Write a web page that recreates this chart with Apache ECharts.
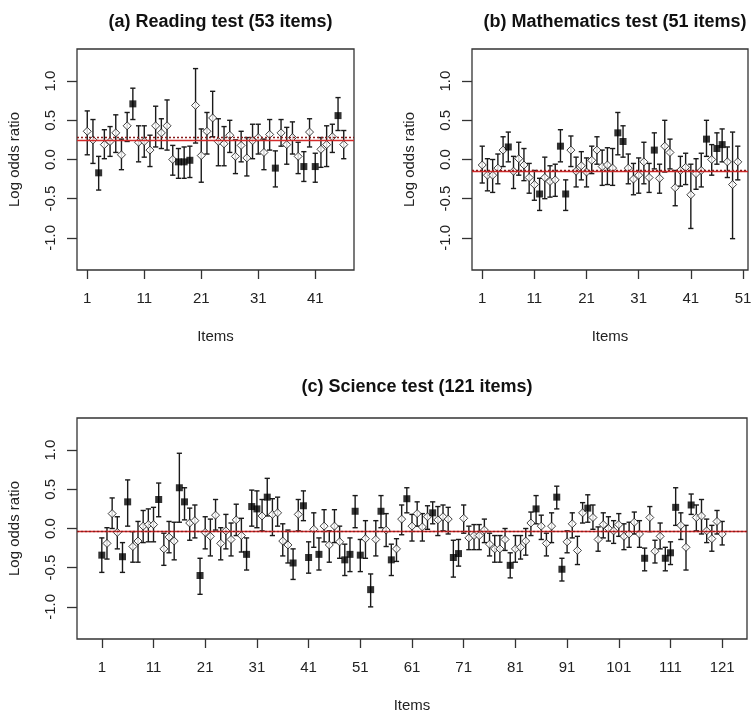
<!DOCTYPE html>
<html><head><meta charset="utf-8">
<script src="https://cdn.jsdelivr.net/npm/echarts@6/dist/echarts.min.js"></script>
<style>html,body{margin:0;padding:0;background:#fff}#c{width:753px;height:717px}</style>
</head><body><div id="c"></div>
<script>
// ---------- data ----------
const readEst  = [0.36,0.25,-0.17,0.19,0.23,0.34,0.06,0.43,0.71,0.22,0.23,0.12,0.43,0.34,0.43,0.00,-0.03,-0.03,-0.01,0.69,0.05,0.36,0.53,0.23,0.20,0.31,0.04,0.18,0.02,0.24,0.28,0.09,0.32,-0.11,0.34,0.19,0.28,0.04,-0.09,0.35,-0.09,0.13,0.19,0.29,0.56,0.19];
const readLow  = [0.06,-0.05,-0.39,0.01,0.04,0.09,-0.13,0.23,0.51,-0.03,0.03,-0.09,0.16,0.14,0.12,-0.20,-0.24,-0.24,-0.23,0.21,-0.29,0.07,0.29,-0.08,-0.08,0.09,-0.18,-0.03,-0.21,0.01,0.07,-0.13,0.12,-0.35,0.17,-0.06,0.07,-0.18,-0.28,0.16,-0.29,-0.10,-0.09,0.09,0.37,0.01];
const readHigh = [0.62,0.51,0.04,0.38,0.42,0.57,0.26,0.60,0.91,0.43,0.43,0.31,0.68,0.52,0.76,0.18,0.14,0.16,0.17,1.16,0.39,0.60,0.87,0.52,0.42,0.50,0.25,0.36,0.28,0.45,0.45,0.26,0.51,0.11,0.51,0.41,0.48,0.22,0.10,0.52,0.08,0.28,0.43,0.45,0.79,0.37];
const readFilled = [3,9,17,18,19,34,39,41,45];
const readRef = [0.25, 0.275];

const mathEst  = [-0.07,-0.20,-0.20,-0.11,0.12,0.16,-0.15,0.01,-0.07,-0.23,-0.32,-0.44,-0.23,-0.28,-0.26,0.17,-0.44,0.12,-0.15,-0.08,-0.16,-0.01,0.12,-0.09,-0.07,-0.11,0.34,0.23,-0.11,-0.25,-0.20,-0.03,-0.23,0.12,-0.24,0.17,0.09,-0.36,-0.14,-0.10,-0.45,-0.18,-0.14,0.26,0.00,0.14,0.19,-0.03,-0.32,-0.03];
const mathLow  = [-0.30,-0.40,-0.42,-0.31,-0.09,-0.03,-0.37,-0.20,-0.27,-0.43,-0.52,-0.65,-0.50,-0.48,-0.47,-0.03,-0.65,-0.09,-0.35,-0.26,-0.35,-0.18,-0.06,-0.33,-0.32,-0.33,0.06,0.03,-0.31,-0.45,-0.43,-0.31,-0.42,-0.12,-0.43,-0.16,-0.12,-0.59,-0.34,-0.32,-0.88,-0.38,-0.35,0.04,-0.20,-0.06,-0.03,-0.23,-1.01,-0.26];
const mathHigh = [0.17,0.01,0.00,0.07,0.29,0.35,0.04,0.22,0.14,-0.05,-0.14,-0.24,0.03,-0.08,-0.06,0.38,-0.26,0.30,0.03,0.10,0.02,0.17,0.29,0.12,0.15,0.14,0.60,0.43,0.07,-0.05,0.02,0.22,-0.05,0.34,-0.06,0.50,0.26,-0.14,0.04,0.08,-0.06,0.01,0.08,0.50,0.19,0.34,0.39,0.16,0.35,0.17];
const mathFilled = [6,12,16,17,27,28,34,44,46,47];
const mathRef = [-0.15, -0.145];

const sciEst = [
 -0.34,-0.19,0.19,-0.05,-0.36,0.34,-0.23,-0.16,0.03,0.05,
 0.05,0.37,-0.26,-0.11,-0.16,0.52,0.34,0.07,0.10,-0.60,
 -0.05,-0.10,0.17,-0.19,-0.03,-0.14,0.11,-0.09,-0.33,0.28,
 0.25,0.16,0.40,0.18,0.20,-0.16,-0.21,-0.44,0.18,0.29,
 -0.37,-0.01,-0.33,0.03,-0.21,0.03,-0.17,-0.40,-0.33,0.22,
 -0.34,-0.13,-0.78,-0.14,0.22,-0.02,-0.40,-0.26,0.12,0.38,
 0.03,0.19,0.02,0.15,0.20,0.11,0.15,0.12,-0.37,-0.32,
 0.13,-0.12,-0.09,-0.09,-0.02,-0.20,-0.26,-0.26,-0.14,-0.47,
 -0.26,-0.24,-0.16,0.07,0.25,0.03,-0.19,0.03,0.40,-0.52,
 -0.17,0.06,-0.28,0.20,0.26,0.14,-0.14,0.05,0.00,-0.03,
 0.05,-0.10,-0.07,0.08,-0.07,-0.38,0.14,-0.29,-0.10,-0.38,
 -0.31,0.27,0.04,-0.24,0.30,0.14,0.16,-0.03,-0.13,0.09,
 -0.07];
const sciLow = [
 -0.56,-0.39,0.00,-0.26,-0.56,0.03,-0.43,-0.43,-0.18,-0.17,
 -0.17,0.15,-0.47,-0.31,-0.40,0.08,0.11,-0.15,-0.12,-0.84,
 -0.26,-0.35,-0.02,-0.40,-0.26,-0.35,-0.09,-0.30,-0.53,0.03,
 0.01,-0.03,0.16,-0.09,0.03,-0.35,-0.44,-0.65,-0.03,0.10,
 -0.57,-0.24,-0.53,-0.17,-0.43,-0.18,-0.38,-0.60,-0.55,0.01,
 -0.55,-0.38,-1.00,-0.35,0.01,-0.23,-0.60,-0.42,-0.08,0.20,
 -0.16,0.03,-0.16,-0.01,0.06,-0.09,-0.03,-0.07,-0.62,-0.48,
 -0.06,-0.27,-0.27,-0.27,-0.18,-0.35,-0.43,-0.43,-0.28,-0.63,
 -0.43,-0.39,-0.34,-0.09,0.06,-0.14,-0.35,-0.18,0.25,-0.67,
 -0.31,-0.12,-0.46,0.07,0.08,-0.01,-0.29,-0.12,-0.16,-0.19,
 -0.10,-0.27,-0.24,-0.07,-0.24,-0.54,-0.04,-0.44,-0.26,-0.54,
 -0.46,0.04,-0.14,-0.53,0.18,-0.03,-0.07,-0.18,-0.29,-0.07,
 -0.21];
const sciHigh = [
 -0.12,0.01,0.39,0.15,-0.18,0.62,-0.04,0.09,0.23,0.25,
 0.27,0.58,-0.06,0.09,0.08,0.96,0.52,0.26,0.30,-0.38,
 0.15,0.12,0.37,0.01,0.18,0.07,0.31,0.13,-0.12,0.49,
 0.48,0.37,0.64,0.38,0.40,0.06,-0.02,-0.26,0.37,0.48,
 -0.17,0.20,-0.12,0.24,-0.03,0.24,0.03,-0.20,-0.12,0.42,
 -0.14,0.10,-0.58,0.10,0.42,0.19,-0.20,-0.13,0.30,0.52,
 0.18,0.34,0.19,0.29,0.34,0.28,0.30,0.27,-0.15,-0.14,
 0.30,0.03,0.05,0.05,0.12,-0.06,-0.09,-0.09,0.00,-0.31,
 -0.09,-0.09,0.00,0.21,0.42,0.17,-0.06,0.20,0.54,-0.38,
 -0.03,0.20,-0.10,0.33,0.43,0.30,0.02,0.20,0.15,0.10,
 0.19,0.06,0.08,0.21,0.10,-0.25,0.28,-0.15,0.07,-0.24,
 -0.17,0.52,0.20,0.04,0.44,0.30,0.37,0.12,0.04,0.23,
 0.09];
const sciFilled = [1,5,6,12,16,17,20,29,30,31,33,38,40,41,43,48,49,50,51,53,55,57,60,65,69,70,80,85,89,90,95,106,110,111,112,115];
const sciRef = [-0.043, -0.04];

const readTicks = [1,11,21,31,41];
const mathTicks = [1,11,21,31,41,51];
const sciTicks  = [1,11,21,31,41,51,61,71,81,91,101,111,121];
const yTicks    = [-1,-0.5,0,0.5,1];

const titles = ['(a) Reading test (53 items)','(b) Mathematics test (51 items)','(c) Science test (121 items)'];

// ---------- chart ----------
const FONT = "'Liberation Sans', Arial, sans-serif";
const panels = [
  {est:readEst, low:readLow, high:readHigh, filled:readFilled, ref:readRef, ticks:readTicks, xMin:-0.8, xMax:47.8,
   grid:{left:77, top:49, width:277, height:221}, tTop:8},
  {est:mathEst, low:mathLow, high:mathHigh, filled:mathFilled, ref:mathRef, ticks:mathTicks, xMin:-0.96, xMax:51.96,
   grid:{left:472, top:49, width:276, height:221}, tTop:8},
  {est:sciEst, low:sciLow, high:sciHigh, filled:sciFilled, ref:sciRef, ticks:sciTicks, xMin:-3.8, xMax:125.8,
   grid:{left:77, top:418, width:670, height:221}, tTop:373}
];

function renderBar(params, api){
  const x = api.value(0);
  const lo = api.coord([x, api.value(1)]);
  const hi = api.coord([x, api.value(2)]);
  const w = 2.6;
  const st = {stroke:'#1a1a1a', lineWidth:1.4};
  return {type:'group', children:[
    {type:'line', shape:{x1:lo[0], y1:lo[1], x2:hi[0], y2:hi[1]}, style:st},
    {type:'line', shape:{x1:lo[0]-w, y1:lo[1], x2:lo[0]+w, y2:lo[1]}, style:st},
    {type:'line', shape:{x1:hi[0]-w, y1:hi[1], x2:hi[0]+w, y2:hi[1]}, style:st}
  ]};
}

const option = {
  animation:false,
  backgroundColor:'#fff',
  title:[], grid:[], xAxis:[], yAxis:[], series:[]
};

panels.forEach((p, k) => {
  option.title.push({
    text: titles[k], left: p.grid.left + p.grid.width/2, top: p.tTop, textAlign:'center',
    textStyle:{fontFamily:FONT, fontSize:18, fontWeight:'bold', color:'#111'}
  });
  option.grid.push(Object.assign({show:true, borderColor:'#333', borderWidth:1.3, backgroundColor:'transparent', containLabel:false, outerBoundsMode:'none'}, p.grid));
  option.xAxis.push({
    type:'value', gridIndex:k, min:p.xMin, max:p.xMax, position:'bottom',
    axisLine:{show:false, onZero:false}, splitLine:{show:false},
    axisTick:{show:true, length:9, customValues:p.ticks, lineStyle:{color:'#333', width:1.3}},
    axisLabel:{customValues:p.ticks, margin:21, fontSize:15, color:'#222', fontFamily:FONT},
    name:'Items', nameLocation:'middle', nameGap:59,
    nameTextStyle:{fontSize:15, color:'#222', fontFamily:FONT}
  });
  option.yAxis.push({
    type:'value', gridIndex:k, min:-1.41, max:1.41, position:'left',
    axisLine:{show:false, onZero:false}, splitLine:{show:false},
    axisTick:{show:true, length:10, customValues:yTicks, lineStyle:{color:'#333', width:1.3}},
    axisLabel:{customValues:yTicks, rotate:90, margin:19, fontSize:15, color:'#222', fontFamily:FONT,
      formatter: v => Number(v).toFixed(1)},
    name:'Log odds ratio', nameLocation:'middle', nameGap:55, nameRotate:90,
    nameTextStyle:{fontSize:15, color:'#222', fontFamily:FONT}
  });
  const barData = p.est.map((v,i) => [i+1, p.low[i], p.high[i]]);
  const open = [], fill = [];
  p.est.forEach((v,i) => { (p.filled.includes(i+1) ? fill : open).push([i+1, v]); });
  option.series.push({
    type:'custom', xAxisIndex:k, yAxisIndex:k, renderItem:renderBar, data:barData,
    encode:{x:0, y:[1,2]}, silent:true, z:2
  });
  option.series.push({
    type:'scatter', xAxisIndex:k, yAxisIndex:k, data:open, symbol:'diamond', symbolSize:8,
    itemStyle:{color:'#fff', borderColor:'#111', borderWidth:1}, silent:true, z:4,
    markLine:{silent:true, symbol:['none','none'], label:{show:false},
      data:[
        {yAxis:p.ref[0], lineStyle:{color:'#d42a2a', width:1.3, type:'solid'}},
        {yAxis:p.ref[1], lineStyle:{color:'#8a1c1c', width:1.3, type:[2,2]}}
      ]}
  });
  option.series.push({
    type:'scatter', xAxisIndex:k, yAxisIndex:k, data:fill, symbol:'rect', symbolSize:7,
    itemStyle:{color:'#000'}, silent:true, z:5
  });
});

const chart = echarts.init(document.getElementById('c'), null, {renderer:'canvas'});
chart.setOption(option);
</script>
</body></html>
